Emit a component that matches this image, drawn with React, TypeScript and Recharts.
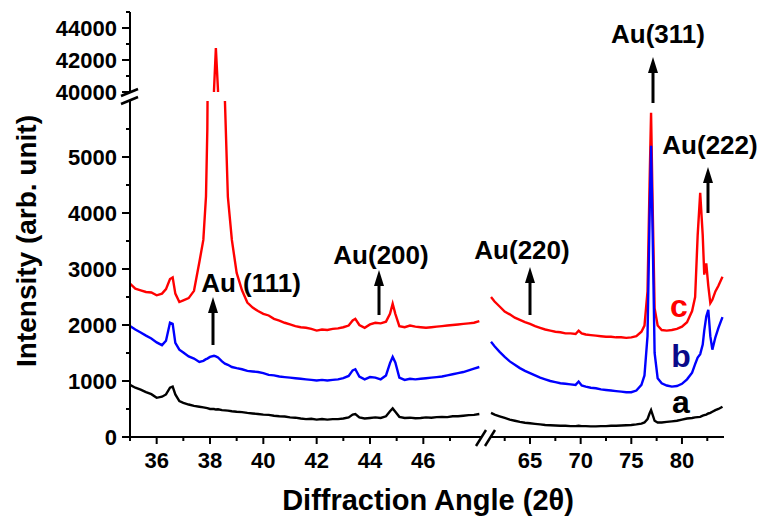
import { LineChart, Line, XAxis, YAxis } from 'recharts'

// 2-theta grid, left panel (35-48 deg)
const leftAngles = [
  35.0, 35.2, 35.4, 35.6, 35.8, 36.0, 36.2, 36.35, 36.5, 36.6, 36.7, 36.85, 37.0, 37.2, 37.4, 37.6,
  37.75, 37.85, 37.9, 38.0, 38.15, 38.22, 38.3, 38.45, 38.56, 38.67, 38.82, 39.0, 39.2, 39.4, 39.6,
  39.8, 40.0, 40.2, 40.4, 40.6, 40.8, 41.0, 41.2, 41.4, 41.6, 41.8, 42.0, 42.2, 42.4, 42.6, 42.8,
  43.0, 43.2, 43.35, 43.45, 43.6, 43.8, 44.0, 44.2, 44.4, 44.6, 44.75, 44.85, 44.95, 45.1, 45.3,
  45.5, 45.7, 45.9, 46.1, 46.3, 46.5, 46.7, 46.9, 47.1, 47.3, 47.5, 47.7, 47.9, 48.1,
]
const leftA = [
  930, 880, 845, 800, 765, 700, 720, 760, 880, 900, 760, 640, 610, 580, 555, 540,
  530, 520, 515, 500, 500, 490, 495, 480, 475, 470, 460, 450, 445, 430, 420,
  410, 400, 395, 380, 370, 365, 350, 345, 330, 320, 325, 310, 320, 310, 320, 320,
  330, 350, 400, 410, 350, 330, 340, 350, 340, 370, 460, 510, 450, 360, 340,
  345, 335, 340, 350, 345, 355, 360, 355, 370, 370, 380, 390, 395, 410,
]
const leftB = [
  1980, 1920, 1865, 1810, 1760, 1690, 1640, 1720, 2040, 2020, 1680, 1560, 1510, 1440, 1400, 1340,
  1360, 1390, 1400, 1430, 1450, 1440, 1420, 1350, 1310, 1290, 1250, 1230, 1210, 1180, 1170,
  1160, 1140, 1110, 1100, 1080, 1070, 1060, 1050, 1040, 1030, 1020, 1010, 1020, 1010, 1020, 1030,
  1050, 1090, 1190, 1210, 1080, 1030, 1070, 1060, 1030, 1100, 1320, 1430, 1330, 1060, 1020,
  1040, 1030, 1040, 1050, 1060, 1070, 1080, 1100, 1120, 1140, 1160, 1190, 1220, 1250,
]
const leftC = [
  2740, 2650, 2620, 2590, 2580, 2530, 2560, 2640, 2820, 2850, 2560, 2410, 2440, 2480, 2610, 3120,
  3520, 4300, 5500, 12000, 40100, 42750, 40100, 12000, 6000, 4290, 3520, 2930, 2620, 2400, 2310,
  2250, 2200, 2170, 2110, 2080, 2040, 2010, 1980, 1960, 1950, 1930, 1900, 1920, 1910, 1930, 1940,
  1960, 1990, 2080, 2110, 2000, 1950, 2010, 2040, 2030, 2060, 2200, 2380, 2200, 1980, 1960,
  1990, 1970, 1960, 1950, 1960, 1970, 1980, 1990, 2000, 2010, 2020, 2030, 2040, 2070,
]

// 2-theta grid, right panel (61-84 deg)
const rightAngles = [
  61.15, 61.5, 62.0, 62.5, 63.0, 63.5, 64.0, 64.5, 65.0, 65.5, 66.0, 66.5, 67.0, 67.5, 68.0, 68.5,
  69.0, 69.5, 69.8, 70.1, 70.5, 71.0, 71.5, 72.0, 72.5, 73.0, 73.5, 74.0, 74.5, 75.0, 75.5, 76.0,
  76.3, 76.6, 76.8, 76.95, 77.1, 77.3, 77.6, 78.0, 78.5, 79.0, 79.5, 80.0, 80.5, 81.0, 81.3, 81.55,
  81.8, 82.05, 82.2, 82.4, 82.6, 82.8, 83.0, 83.3, 83.6, 84.0,
]
const rightA = [
  430, 400, 370, 340, 310, 290, 270, 255, 245, 235, 225, 215, 210, 205, 200, 200,
  195, 195, 200, 195, 195, 190, 190, 195, 195, 200, 200, 205, 210, 215, 225, 240,
  260, 320, 420, 480, 400, 290, 260, 260, 270, 280, 290, 310, 330, 340, 350, 355,
  360, 380, 390, 400, 420, 430, 450, 480, 500, 540,
]
const rightB = [
  1700, 1620, 1520, 1430, 1350, 1290, 1230, 1180, 1140, 1100, 1060, 1030, 1000, 980, 960, 950,
  940, 930, 990, 920, 900, 880, 870, 850, 840, 830, 820, 810, 800, 800, 830, 930,
  1100, 1800, 3900, 5200, 3700, 1500, 1050, 960, 920, 900, 910, 950, 1030, 1150, 1300, 1420,
  1480, 1650, 1900, 2150, 2270, 1800, 1560, 1780, 1950, 2140,
]
const rightC = [
  2500, 2420, 2330, 2240, 2190, 2130, 2090, 2050, 2020, 1980, 1950, 1920, 1900, 1880, 1870, 1850,
  1850, 1840, 1900, 1850, 1830, 1820, 1810, 1800, 1790, 1790, 1780, 1780, 1770, 1780, 1800, 1880,
  1990, 2600, 4500, 5790, 4200, 2300, 1990, 1910, 1900, 1910, 1930, 1970, 2050, 2250, 2500, 3600,
  4360, 3600, 2900, 3100, 2700, 2390, 2450, 2600, 2700, 2860,
]

const leftTicks = [35, 36, 37, 38, 39, 40, 41, 42, 43, 44, 45, 46, 47]
const leftLabels = [36, 38, 40, 42, 44, 46]
const rightTicks = [62.5, 65, 67.5, 70, 72.5, 75, 77.5, 80, 82.5]
const rightLabels = [65, 70, 75, 80]
const lowTicks = [0, 500, 1000, 1500, 2000, 2500, 3000, 3500, 4000, 4500, 5000, 5500]
const lowLabels = [0, 1000, 2000, 3000, 4000, 5000]
const highTicks = [40000, 41000, 42000, 43000, 44000, 45000]
const highLabels = [40000, 42000, 44000]

const leftRows = leftAngles.map((x, i) => ({ x, a: leftA[i], b: leftB[i], c: leftC[i] }))
const rightRows = rightAngles.map((x, i) => ({ x, a: rightA[i], b: rightB[i], c: rightC[i] }))

const FONT = 'Arial, "Liberation Sans", sans-serif'
const axisStyle = { stroke: '#000', strokeWidth: 2 }
const LINE_W = 2.4

const makeXTick = (labels: number[]) => (props: any) => {
  const { x, y, payload } = props
  const major = labels.includes(payload.value)
  return (
    <g>
      <line x1={x} x2={x} y1={y} y2={y + (major ? 7 : 4)} stroke="#000" strokeWidth={2} />
      {major && (
        <text x={x} y={y + 31} textAnchor="middle" fontSize={22} fontWeight="bold" fontFamily={FONT} fill="#000">
          {payload.value}
        </text>
      )}
    </g>
  )
}

const makeYTick = (labels: number[]) => (props: any) => {
  const { x, y, payload } = props
  const major = labels.includes(payload.value)
  return (
    <g>
      <line x1={x - (major ? 8 : 4)} x2={x} y1={y} y2={y} stroke="#000" strokeWidth={2} />
      {major && (
        <text x={x - 13} y={y + 8} textAnchor="end" fontSize={22} fontWeight="bold" fontFamily={FONT} fill="#000">
          {String(payload.value)}
        </text>
      )}
    </g>
  )
}

function Arrow({ x, top, bottom }: { x: number; top: number; bottom: number }) {
  return (
    <g>
      <line x1={x} x2={x} y1={bottom} y2={top + 12} stroke="#000" strokeWidth={3} />
      <polygon points={`${x},${top} ${x - 5},${top + 16} ${x + 5},${top + 16}`} fill="#000" />
    </g>
  )
}

const layer: React.CSSProperties = { position: 'absolute', left: 0, top: 0 }

function Series() {
  return [
    <Line key="c" dataKey="c" stroke="#ff0000" strokeWidth={LINE_W} dot={false} activeDot={false} isAnimationActive={false} />,
    <Line key="b" dataKey="b" stroke="#0000ff" strokeWidth={LINE_W} dot={false} activeDot={false} isAnimationActive={false} />,
    <Line key="a" dataKey="a" stroke="#000000" strokeWidth={LINE_W} dot={false} activeDot={false} isAnimationActive={false} />,
  ]
}

export default function App() {
  return (
    <div style={{ position: 'absolute', left: 0, top: 0, width: 758, height: 517, background: '#fff', fontFamily: FONT }}>
      {/* upper part of the broken y axis (40000-45000) */}
      <div style={layer}>
        <LineChart width={758} height={517} data={leftRows} margin={{ top: 12, right: 276, bottom: 425, left: 0 }}>
          <XAxis dataKey="x" type="number" domain={[35, 48.2]} hide allowDataOverflow />
          <YAxis
            type="number"
            domain={[40000, 45000]}
            ticks={highTicks}
            interval={0}
            width={130}
            allowDataOverflow
            axisLine={axisStyle}
            tickLine={false}
            tickSize={0}
            tickMargin={0}
            tick={makeYTick(highLabels)}
          />
          <Line dataKey="c" stroke="#ff0000" strokeWidth={LINE_W} dot={false} activeDot={false} isAnimationActive={false} />
        </LineChart>
      </div>

      {/* lower left panel */}
      <div style={layer}>
        <LineChart width={758} height={517} data={leftRows} margin={{ top: 101, right: 276, bottom: 40, left: 0 }}>
          <XAxis
            dataKey="x"
            type="number"
            domain={[35, 48.2]}
            ticks={leftTicks}
            interval={0}
            height={40}
            allowDataOverflow
            axisLine={axisStyle}
            tickLine={false}
            tickSize={0}
            tickMargin={0}
            tick={makeXTick(leftLabels)}
          />
          <YAxis
            type="number"
            domain={[0, 6000]}
            ticks={lowTicks}
            interval={0}
            width={130}
            allowDataOverflow
            axisLine={axisStyle}
            tickLine={false}
            tickSize={0}
            tickMargin={0}
            tick={makeYTick(lowLabels)}
          />
          {Series()}
        </LineChart>
      </div>

      {/* right panel */}
      <div style={layer}>
        <LineChart width={758} height={517} data={rightRows} margin={{ top: 101, right: 34, bottom: 40, left: 490 }}>
          <XAxis
            dataKey="x"
            type="number"
            domain={[61.05, 84.15]}
            ticks={rightTicks}
            interval={0}
            height={40}
            allowDataOverflow
            axisLine={axisStyle}
            tickLine={false}
            tickSize={0}
            tickMargin={0}
            tick={makeXTick(rightLabels)}
          />
          <YAxis type="number" domain={[0, 6000]} hide allowDataOverflow />
          {Series()}
        </LineChart>
      </div>

      {/* annotations, axis breaks and titles */}
      <svg width={758} height={517} style={{ ...layer, pointerEvents: 'none' }}>
        <line x1={121} y1={96} x2={138} y2={89} stroke="#000" strokeWidth={2.5} />
        <line x1={121} y1={104} x2={138} y2={97} stroke="#000" strokeWidth={2.5} />
        <line x1={476} y1={446} x2={486} y2={430} stroke="#000" strokeWidth={2.5} />
        <line x1={485} y1={446} x2={495} y2={430} stroke="#000" strokeWidth={2.5} />

        <g fontFamily={FONT} fontWeight="bold" fontSize={26} fill="#000" textAnchor="middle">
          <text x={658} y={43}>Au(311)</text>
          <text x={710} y={154}>Au(222)</text>
          <text x={522} y={259}>Au(220)</text>
          <text x={381} y={264}>Au(200)</text>
          <text x={251} y={292}>Au (111)</text>
        </g>
        <Arrow x={653} top={57} bottom={103} />
        <Arrow x={708} top={167} bottom={213} />
        <Arrow x={530} top={267} bottom={315} />
        <Arrow x={379} top={270} bottom={315} />
        <Arrow x={213} top={297} bottom={345} />

        <g fontFamily={FONT} fontWeight="bold" fontSize={32} textAnchor="middle">
          <text x={679} y={317} fill="#ff0000">c</text>
          <text x={681} y={367} fill="#0a0a8a">b</text>
          <text x={681} y={413} fill="#000">a</text>
        </g>

        <text x={428} y={510} textAnchor="middle" fontFamily={FONT} fontWeight="bold" fontSize={29} fill="#000">
          Diffraction Angle (2θ)
        </text>
        <text
          x={0}
          y={0}
          transform="translate(36,241) rotate(-90)"
          textAnchor="middle"
          fontFamily={FONT}
          fontWeight="bold"
          fontSize={28}
          fill="#000"
        >
          Intensity (arb. unit)
        </text>
      </svg>
    </div>
  )
}
